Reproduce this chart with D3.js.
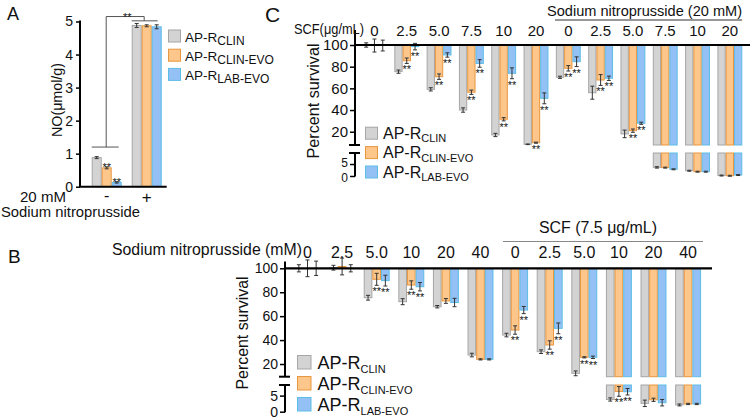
<!DOCTYPE html>
<html><head><meta charset="utf-8">
<script src="https://cdn.jsdelivr.net/npm/d3@7"></script>
<style>
body{margin:0;background:#fff}
svg{display:block}
text{font-family:"Liberation Sans",Arial,Helvetica,sans-serif;fill:#111}
</style>
</head><body>
<svg id="chart" width="750" height="420"></svg>
<script>
// ---------------- DATA ----------------
const strainSubs = ["CLIN", "CLIN-EVO", "LAB-EVO"];

// Panel A: NO (umol/g)
const aGroups = ["-", "+"];
const aClin = [0.88, 4.88];
const aClinEvo = [0.57, 4.87];
const aLabEvo = [0.13, 4.84];
const aClinErr = [0.03, 0.06];
const aClinEvoErr = [0.03, 0.03];
const aLabEvoErr = [0.02, 0.06];
const aStars = [[0, 0], [1, 0], [1, 0]];
const aTicks = [0, 1, 2, 3, 4, 5];

// Panel C: percent survival vs SCF (ug/mL), then SCF with 20 mM SNP
const cGroups = ["0", "2.5", "5.0", "7.5", "10", "20", "0", "2.5", "5.0", "7.5", "10", "20"];
const cClin = [100, 75.4, 59.1, 40, 17, 8.4, 70.2, 56, 18, 3.6, 2.2, 0.2];
const cClinEvo = [99.5, 85.5, 70.8, 56.4, 31.5, 9.9, 78.5, 67.7, 21, 3.5, 1.8, 0.1];
const cLabEvo = [99.5, 98.5, 90.8, 83, 73.9, 50.8, 84.6, 69.3, 27.8, 2.8, 1.8, 0.4];
const cClinErr = [2, 1.5, 1.5, 2, 1.5, 0.3, 1, 6, 3.5, 0.3, 0.2, 0.2];
const cClinEvoErr = [6, 2.5, 2.5, 2, 1.5, 0.5, 2.5, 5, 1.5, 0.2, 0.2, 0.2];
const cLabEvoErr = [5, 3, 2, 3.5, 5, 5, 4.5, 2, 1, 0.2, 0.2, 0.2];
const cStars = [0, 1, 1, 1, 1, 1, 1, 1, 1, 0, 0, 0];
const cTicksUpper = [100, 80, 60, 40, 20];
const cTicksLower = [5, 0];

// Panel B: percent survival vs SNP (mM), then SNP with 7.5 ug/mL SCF
const bGroups = ["0", "2.5", "5.0", "10", "20", "40", "0", "2.5", "5.0", "10", "20", "40"];
const bClin = [100, 100.5, 75.4, 72.1, 67.9, 27.5, 44.2, 30.3, 12.2, 3.8, 2.6, 2.1];
const bClinEvo = [100, 101.5, 90.8, 86, 72.7, 23.9, 48.4, 35.9, 25.6, 6.3, 3.7, 2.4];
const bLabEvo = [100, 100, 89.7, 84.6, 71.4, 23.9, 65.1, 49.8, 25.6, 6.2, 2.8, 2.4];
const bClinErr = [3, 2, 2, 2.5, 1, 1.5, 1.5, 1.5, 2, 0.5, 1, 0.3];
const bClinEvoErr = [7, 7, 5, 3.5, 2, 0.5, 3.5, 3.5, 0.5, 1.5, 0.5, 0.2];
const bLabEvoErr = [6, 3, 4.5, 3.5, 3.5, 0.5, 3, 4.5, 1, 1, 1, 0.2];
const bStars = [0, 0, 1, 1, 0, 0, 1, 1, 1, 1, 0, 0];
const bTicksUpper = [100, 80, 60, 40, 20];
const bTicksLower = [5, 0];

// ---------------- STYLE ----------------
const fills = ["#d3d3d3", "#fdc68b", "#93c1f6"];
const strokes = ["#a6a6a6", "#e9973f", "#5cbde6"];
const errColor = "#333";

const svg = d3.select("#chart");

function txt(parent, x, y, s, size, opts = {}) {
  const t = parent.append("text").attr("x", x).attr("y", y).attr("font-size", size).text(s);
  if (opts.anchor) t.attr("text-anchor", opts.anchor);
  if (opts.width) t.attr("textLength", opts.width).attr("lengthAdjust", "spacingAndGlyphs");
  if (opts.rotate) t.attr("transform", `rotate(-90,${x},${y})`);
  if (opts.weight) t.attr("font-weight", opts.weight);
  return t;
}

function line(parent, x1, y1, x2, y2, w, c) {
  return parent.append("line").attr("x1", x1).attr("y1", y1).attr("x2", x2).attr("y2", y2)
    .attr("stroke", c || "#000").attr("stroke-width", w || 1);
}

function bar(parent, x, y, w, h, s) {
  if (h <= 0) return;
  parent.append("rect").attr("x", x + 0.5).attr("y", y).attr("width", w - 1).attr("height", h)
    .attr("fill", fills[s]).attr("stroke", strokes[s]).attr("stroke-width", 1);
}

function errbar(parent, cx, yTop, yBot, cap) {
  line(parent, cx, yTop, cx, yBot, 1, errColor);
  line(parent, cx - cap, yTop, cx + cap, yTop, 1, errColor);
  line(parent, cx - cap, yBot, cx + cap, yBot, 1, errColor);
}

function stars(parent, cx, y, size) {
  txt(parent, cx, y, "**", size, { anchor: "middle" });
}

function legend(x, yTop, dy, sq, mainSize, subSize, subDy, gap) {
  const g = svg.append("g");
  strainSubs.forEach((sub, i) => {
    g.append("rect").attr("x", x + 0.5).attr("y", yTop + i * dy + 0.5).attr("width", sq).attr("height", sq)
      .attr("fill", fills[i]).attr("stroke", strokes[i]);
    const t = g.append("text").attr("x", x + sq + gap).attr("y", yTop + i * dy + sq).attr("font-size", mainSize);
    t.append("tspan").text("AP-R");
    t.append("tspan").attr("font-size", subSize).attr("dy", subDy).text(sub);
  });
  return g;
}

// ---------------- PANEL A ----------------
(function () {
  const g = svg.append("g");
  const y = d3.scaleLinear().domain([0, 5]).range([186.7, 21.5]);
  const x = d3.scaleBand().domain(aGroups).range([86.7, 166.7]).paddingInner(0.25).paddingOuter(0.125);
  const xs = d3.scaleBand().domain([0, 1, 2]).range([0, x.bandwidth()]);
  const series = [aClin, aClinEvo, aLabEvo];
  const errs = [aClinErr, aClinEvoErr, aLabEvoErr];
  series.forEach((vals, s) => vals.forEach((v, i) => {
    const bx = x(aGroups[i]) + xs(s);
    bar(g, bx, y(v), xs.bandwidth(), y(0) - y(v), s);
  }));
  series.forEach((vals, s) => vals.forEach((v, i) => {
    const cx = x(aGroups[i]) + xs(s) + xs.bandwidth() / 2;
    errbar(g, cx, y(v + errs[s][i]), y(v - errs[s][i]), 2);
    if (aStars[s][i]) stars(g, cx, y(v + errs[s][i]) + 4.5, 11);
  }));
  // axes
  const ax = g.append("g").attr("transform", "translate(80,0)")
    .call(d3.axisLeft(y).tickValues(aTicks).tickSize(4).tickSizeOuter(0).tickPadding(3).tickFormat(d3.format("d")));
  ax.select(".domain").remove();
  ax.selectAll(".tick line").attr("stroke-width", 1.5);
  ax.selectAll("text").attr("font-size", 14).attr("font-family", null);
  line(g, 80, y(0), 80, y(5) - 1, 2);
  line(g, 79, y(0), 166.7, y(0), 2);
  // significance
  const cMinus = x("-") + x.bandwidth() / 2, cPlus = x("+") + x.bandwidth() / 2;
  const sc = "#555";
  line(g, x("-"), y(1.2), x("-") + x.bandwidth() - 3, y(1.2), 1, sc);
  line(g, cMinus - 0.5, y(1.2), cMinus - 0.5, y(5.15), 1, sc);
  line(g, cMinus - 0.5, y(5.15), cPlus - 2.5, y(5.15), 1, sc);
  line(g, cPlus - 2.5, y(5.15), cPlus - 2.5, y(5.02), 1, sc);
  line(g, x("+"), y(5.02), x("+") + x.bandwidth() - 4, y(5.02), 1, sc);
  stars(g, (cMinus + cPlus) / 2 + 0.5, y(5.15) + 4.5, 11);
  // labels
  txt(g, 7, 20, "A", 18);
  txt(g, 62, 100, "NO(\u03bcmol/g)", 15, { anchor: "middle", rotate: true, width: 74 });
  txt(g, 20, 202, "20 mM", 14.5, { width: 46 });
  txt(g, 1, 217, "Sodium nitroprusside", 14.5, { width: 139 });
  txt(g, cMinus, 201, "-", 16, { anchor: "middle" });
  txt(g, cPlus, 203, "+", 17, { anchor: "middle" });
})();
legend(168, 29.5, 19.2, 12, 13.5, 12, 3.5, 5);

// ---------------- BROKEN-AXIS PANELS (B, C) ----------------
function brokenPanel(cfg) {
  const g = svg.append("g");
  const { groups, series, errs, starsArr, yU, yL, axisX, axisTop, lineRight, range, padIn, padOut } = cfg;
  const x = d3.scaleBand().domain(d3.range(groups.length)).range(range).paddingInner(padIn).paddingOuter(padOut);
  const xs = d3.scaleBand().domain([0, 1, 2]).range([0, x.bandwidth()]);
  const uMin = yU.domain()[0], lMax = yL.domain()[1];
  const ys = v => (v >= uMin ? yU : yL);
  series.forEach((vals, s) => vals.forEach((v, i) => {
    const bx = x(i) + xs(s), bw = xs.bandwidth();
    if (v >= uMin) {
      bar(g, bx, Math.min(yU(100), yU(v)), bw, Math.abs(yU(v) - yU(100)), s);
    } else {
      bar(g, bx, yU(100), bw, yU(uMin) - yU(100), s);
      bar(g, bx, yL(lMax), bw, yL(v) - yL(lMax), s);
    }
  }));
  series.forEach((vals, s) => vals.forEach((v, i) => {
    const cx = x(i) + xs(s) + xs.bandwidth() / 2;
    const e = errs[s][i];
    const sc = ys(v);
    errbar(g, cx, sc(v + e), sc(v - e), 2);
    if (s > 0 && starsArr[i]) stars(g, cx, sc(v - e) + 10, 11);
  }));
  // baseline at 100
  line(g, axisX, yU(100), lineRight, yU(100), 2.2);
  // y axes
  const au = g.append("g").attr("transform", `translate(${axisX},0)`)
    .call(d3.axisLeft(yU).tickValues(cfg.ticksU).tickSize(5).tickSizeOuter(0).tickPadding(2));
  const al = g.append("g").attr("transform", `translate(${axisX},0)`)
    .call(d3.axisLeft(yL).tickValues(cfg.ticksL).tickSize(5).tickSizeOuter(0).tickPadding(2));
  au.selectAll("text").attr("font-size", cfg.tickFont);
  al.selectAll("text").attr("font-size", cfg.tickFontLower)
    .attr("y", d => (d > 0 ? -cfg.lowerSpread : cfg.lowerSpread));
  [au, al].forEach(a => {
    a.select(".domain").remove();
    a.selectAll(".tick line").attr("stroke-width", 1.5);
    a.selectAll("text").attr("font-family", null);
  });
  const uBot = yU(uMin), lTop = yL(lMax);
  line(g, axisX, axisTop, axisX, uBot, 2);
  line(g, axisX, lTop, axisX, yL(0) + 0.5, 2);
  line(g, axisX - 6, uBot, axisX + 5, uBot, 2);
  line(g, axisX - 6, lTop, axisX + 5, lTop, 2);
  // group labels
  groups.forEach((lab, i) => {
    txt(g, x(i) + x.bandwidth() / 2, cfg.labelY, lab, cfg.labelFont, { anchor: "middle" });
  });
  return { g, x };
}

// ---------------- PANEL C ----------------
(function () {
  const yU = d3.scaleLinear().domain([7.75, 100]).range([145, 45]);
  const yL = d3.scaleLinear().domain([0, 9.6]).range([176, 153]);
  const { g, x } = brokenPanel({
    groups: cGroups, series: [cClin, cClinEvo, cLabEvo], errs: [cClinErr, cClinEvoErr, cLabEvoErr],
    starsArr: cStars, yU, yL, axisX: 355, axisTop: 30, lineRight: 750,
    range: [358.3, 746], padIn: 0.23, padOut: 0.115, ticksU: cTicksUpper, ticksL: cTicksLower,
    tickFont: 15, tickFontLower: 12, lowerSpread: 1.5, labelY: 36, labelFont: 15
  });
  txt(g, 265, 22, "C", 21);
  txt(g, 294, 34, "SCF(\u03bcg/mL)", 14, { width: 70 });
  txt(g, 319, 101, "Percent survival", 16, { anchor: "middle", rotate: true, width: 115 });
  txt(g, 547, 16, "Sodium nitroprusside (20 mM)", 15, { width: 195 });
  line(g, 555, 20, 742, 20, 1.2, "#333");
})();
legend(365, 126.7, 19.4, 12, 16, 11, 3.5, 6);

// ---------------- PANEL B ----------------
(function () {
  const yU = d3.scaleLinear().domain([9.4, 100]).range([376.7, 268.3]);
  const yL = d3.scaleLinear().domain([0, 8.3]).range([411.7, 385]);
  const { g, x } = brokenPanel({
    groups: bGroups, series: [bClin, bClinEvo, bLabEvo], errs: [bClinErr, bClinEvoErr, bLabEvoErr],
    starsArr: bStars, yU, yL, axisX: 285, axisTop: 261.5, lineRight: 712,
    range: [290.2, 705.4], padIn: 0.25, padOut: 0.125, ticksU: bTicksUpper, ticksL: bTicksLower,
    tickFont: 14, tickFontLower: 14, lowerSpread: 0, labelY: 258, labelFont: 16
  });
  txt(g, 8, 263, "B", 19);
  txt(g, 112, 255, "Sodium nitroprusside (mM)", 16, { width: 190 });
  txt(g, 248, 333, "Percent survival", 16, { anchor: "middle", rotate: true, width: 113 });
  txt(g, 539, 233, "SCF (7.5 \u03bcg/mL)", 16, { width: 118 });
  line(g, 503, 241.5, 703, 241.5, 1.2, "#888");
})();
legend(297, 355, 21, 13.5, 18, 11, 4, 7);
</script>
</body></html>
